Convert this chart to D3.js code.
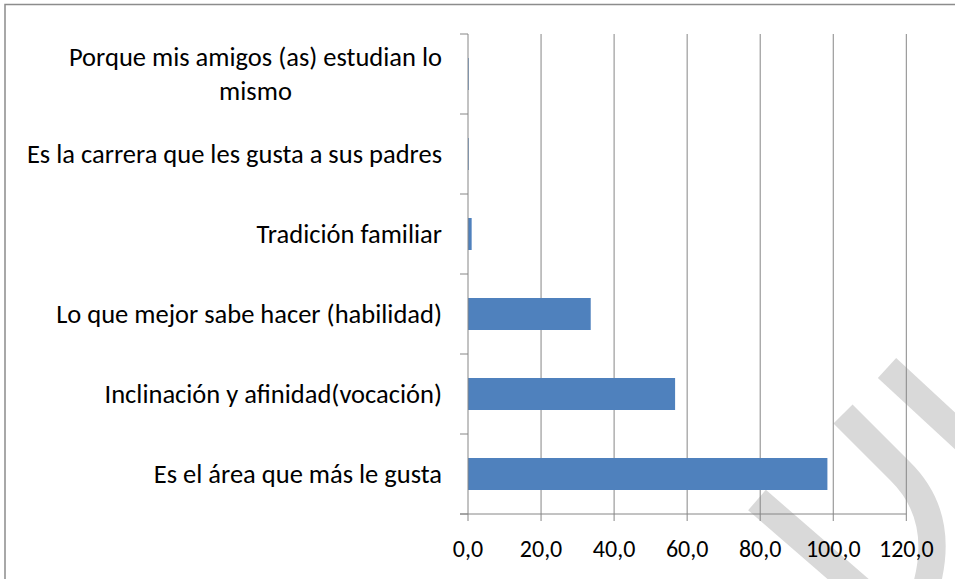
<!DOCTYPE html>
<html>
<head>
<meta charset="utf-8">
<script src="https://cdn.jsdelivr.net/npm/d3@7"></script>
<style>
  body { margin: 0; background: #fff; }
  svg { display: block; }
  text { font-family: Carlito, Calibri, Lato, sans-serif; fill: #000; }
</style>
</head>
<body>
<div id="chart"></div>
<script>
// categories top to bottom, as shown
const categories = [
  "Porque mis amigos (as) estudian lo mismo",
  "Es la carrera que les gusta a sus padres",
  "Tradición familiar",
  "Lo que mejor sabe hacer (habilidad)",
  "Inclinación y afinidad(vocación)",
  "Es el área que más le gusta"
];
const labelLines = [
  ["Porque mis amigos (as) estudian lo", "mismo"],
  ["Es la carrera que les gusta a sus padres"],
  ["Tradición familiar"],
  ["Lo que mejor sabe hacer (habilidad)"],
  ["Inclinación y afinidad(vocación)"],
  ["Es el área que más le gusta"]
];
const values = [0.2, 0.2, 1.0, 33.6, 56.7, 98.4];
const xTicks = [0, 20, 40, 60, 80, 100, 120];

const W = 955, H = 579;
const margin = { top: 34, right: 48.7, bottom: 65, left: 468 };

const svg = d3.select('#chart').append('svg')
  .attr('width', W).attr('height', H);

// watermark behind the chart
const wm = svg.append('g').attr('fill', 'none').attr('stroke', '#d9d9d9')
  .attr('stroke-width', 27);
wm.append('path').attr('d', 'M757,500 L870,598');
wm.append('path').attr('d', 'M843,414 L900,471 Q950,520 922,600');
wm.append('path').attr('d', 'M887,368 L965,440');

// outer chart border
svg.append('rect')
  .attr('x', 5).attr('y', 4.5)
  .attr('width', W + 10).attr('height', H + 10)
  .attr('fill', 'none').attr('stroke', '#8c8c8c').attr('stroke-width', 1.5);

const x = d3.scaleLinear().domain([0, 120]).range([margin.left, W - margin.right]);
const y = d3.scaleBand().domain(categories)
  .range([margin.top, H - margin.bottom])
  .paddingInner(0.6).paddingOuter(0.3);

const y0 = margin.top, y1 = H - margin.bottom;
const step = y.step();

// vertical gridlines
svg.append('g').selectAll('line')
  .data(xTicks.slice(1)).enter().append('line')
  .attr('x1', d => x(d)).attr('x2', d => x(d))
  .attr('y1', y0).attr('y2', y1)
  .attr('stroke', '#868686').attr('stroke-width', 1);

// bars
svg.append('g').selectAll('rect')
  .data(values).enter().append('rect')
  .attr('x', x(0))
  .attr('y', (d, i) => y(categories[i]))
  .attr('width', d => x(d) - x(0))
  .attr('height', y.bandwidth())
  .attr('fill', '#4f81bd');

// x axis line and ticks
svg.append('line')
  .attr('x1', x(0) - 8).attr('x2', x(120))
  .attr('y1', y1).attr('y2', y1)
  .attr('stroke', '#868686').attr('stroke-width', 1);
svg.append('g').selectAll('line')
  .data(xTicks).enter().append('line')
  .attr('x1', d => x(d)).attr('x2', d => x(d))
  .attr('y1', y1).attr('y2', y1 + 7)
  .attr('stroke', '#868686').attr('stroke-width', 1);
svg.append('g').selectAll('text')
  .data(xTicks).enter().append('text')
  .attr('x', d => x(d)).attr('y', 557)
  .attr('text-anchor', 'middle')
  .style('font-size', '24px')
  .text(d => d3.format('.1f')(d).replace('.', ','));

// y axis line and ticks at band edges
svg.append('line')
  .attr('x1', x(0)).attr('x2', x(0))
  .attr('y1', y0).attr('y2', y1)
  .attr('stroke', '#868686').attr('stroke-width', 1);
svg.append('g').selectAll('line')
  .data(d3.range(categories.length + 1)).enter().append('line')
  .attr('x1', x(0) - 8).attr('x2', x(0))
  .attr('y1', i => y0 + i * step).attr('y2', i => y0 + i * step)
  .attr('stroke', '#868686').attr('stroke-width', 1);

// category labels
const labelRight = 442;
const lineGap = 34;
labelLines.forEach((lines, i) => {
  const cy = y(categories[i]) + y.bandwidth() / 2;
  const g = svg.append('g');
  const texts = lines.map((ln, j) => g.append('text')
    .attr('y', cy + (j - (lines.length - 1) / 2) * lineGap)
    .attr('dy', '0.35em')
    .style('font-size', '26.5px')
    .text(ln));
  const widest = d3.max(texts, t => t.node().getComputedTextLength());
  texts.forEach(t => t.attr('x', labelRight - widest / 2).attr('text-anchor', 'middle'));
});
</script>
</body>
</html>
